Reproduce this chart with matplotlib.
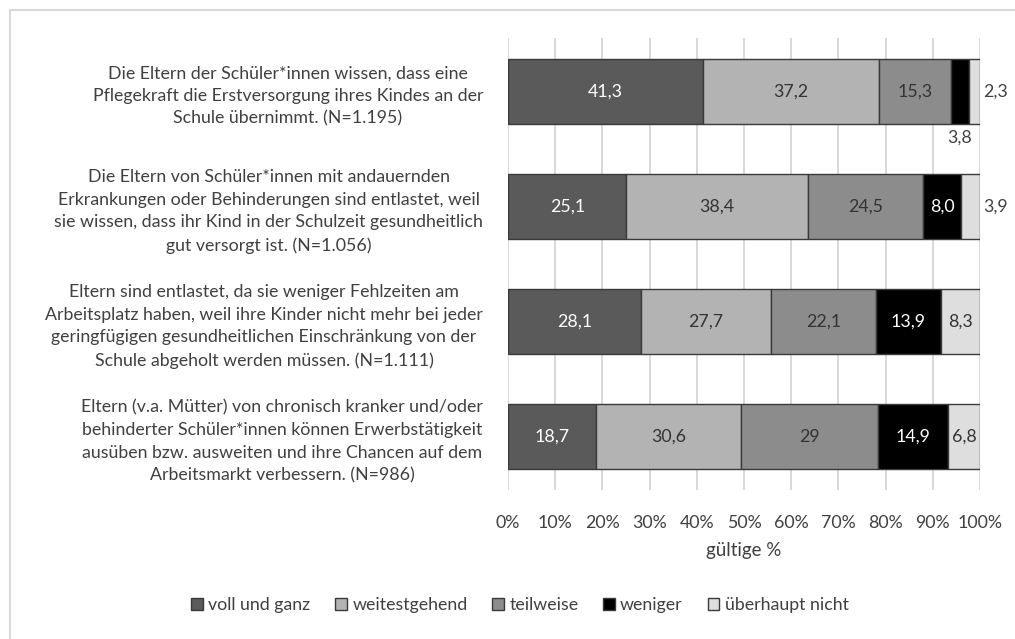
import matplotlib
matplotlib.use("Agg")
import matplotlib.pyplot as plt
from matplotlib.lines import Line2D

plt.rcParams['font.family'] = ['Lato', 'DejaVu Sans']

# Statements (top to bottom)
statements = [
    "Die Eltern der Schüler*innen wissen, dass eine\nPflegekraft die Erstversorgung ihres Kindes an der\nSchule übernimmt. (N=1.195)",
    "Die Eltern von Schüler*innen mit andauernden\nErkrankungen oder Behinderungen sind entlastet, weil\nsie wissen, dass ihr Kind in der Schulzeit gesundheitlich\ngut versorgt ist. (N=1.056)",
    "Eltern sind entlastet, da sie weniger Fehlzeiten am\nArbeitsplatz haben, weil ihre Kinder nicht mehr bei jeder\ngeringfügigen gesundheitlichen Einschränkung von der\nSchule abgeholt werden müssen. (N=1.111)",
    "Eltern (v.a. Mütter) von chronisch kranker und/oder\nbehinderter Schüler*innen können Erwerbstätigkeit\nausüben bzw. ausweiten und ihre Chancen auf dem\nArbeitsmarkt verbessern. (N=986)",
]

# Response categories and their shares (valid %), as printed
categories = ["voll und ganz", "weitestgehend", "teilweise", "weniger", "überhaupt nicht"]
voll_und_ganz = ["41,3", "25,1", "28,1", "18,7"]
weitestgehend = ["37,2", "38,4", "27,7", "30,6"]
teilweise = ["15,3", "24,5", "22,1", "29"]
weniger = ["3,8", "8,0", "13,9", "14,9"]
ueberhaupt_nicht = ["2,3", "3,9", "8,3", "6,8"]

x_ticks = [0, 10, 20, 30, 40, 50, 60, 70, 80, 90, 100]
x_tick_labels = [f"{t}%" for t in x_ticks]
x_title = "gültige %"

series = [voll_und_ganz, weitestgehend, teilweise, weniger, ueberhaupt_nicht]
colors = ["#5a5a5a", "#b3b3b3", "#8c8c8c", "#000000", "#dedede"]
text_colors = ["white", "#333333", "#333333", "white", "#333333"]
edge = "#3a3a3a"
label_dark = "#404040"
fs = 12.8


def to_num(s):
    return float(s.replace(",", "."))


fig = plt.figure(figsize=(10.15, 6.39), dpi=100)
ax = fig.add_axes([0.5005, 0.2332, 0.4650, 0.7073])

# light frame around the chart area
fig.add_artist(Line2D([10 / 1015, 10 / 1015], [0, 1 - 10 / 639], color="#d9d9d9", lw=1.5))
fig.add_artist(Line2D([10 / 1015, 1], [1 - 10 / 639, 1 - 10 / 639], color="#d9d9d9", lw=1.5))

ypos = list(range(len(statements)))
bar_h = 0.56
lefts = [0.0] * len(statements)
for k, (vals, col, tcol) in enumerate(zip(series, colors, text_colors)):
    nums = [to_num(v) for v in vals]
    ax.barh(ypos, nums, left=lefts, height=bar_h, color=col, edgecolor=edge,
            linewidth=1.0, label=categories[k], zorder=3)
    for i, (n, s) in enumerate(zip(nums, vals)):
        cx = lefts[i] + n / 2
        if n >= 5:
            ax.text(cx, ypos[i], s, ha="center", va="center", color=tcol,
                    fontsize=fs, zorder=4)
        elif k == 3:
            # small segment: label below the bar
            ax.text(cx, ypos[i] + bar_h / 2 + 0.05, s, ha="center", va="top",
                    color=label_dark, fontsize=fs)
        else:
            # small segment at the end: label to the right of the bar
            ax.text(100.6, ypos[i], s, ha="left", va="center",
                    color=label_dark, fontsize=fs, clip_on=False)
    lefts = [l + n for l, n in zip(lefts, nums)]

ax.set_xlim(0, 100)
ax.set_ylim(3.465, -0.465)
ax.set_xticks(x_ticks)
ax.set_xticklabels(x_tick_labels, fontsize=fs, color=label_dark)
ax.set_yticks(ypos)
ax.set_yticklabels(statements, fontsize=fs, color=label_dark, linespacing=1.5)
for lab in ax.get_yticklabels():
    lab.set_multialignment("center")
ax.tick_params(axis="x", length=0, pad=18)
ax.tick_params(axis="y", length=0, pad=18)
ax.set_xlabel(x_title, fontsize=13.5, color=label_dark, labelpad=8)

ax.grid(axis="x", color="#d6d6d6", linewidth=1.3, zorder=0)
ax.set_axisbelow(True)
for sp in ax.spines.values():
    sp.set_visible(False)

handles, labels = ax.get_legend_handles_labels()
leg = fig.legend(handles, labels, loc="center", bbox_to_anchor=(520 / 1015, 1 - 605 / 639),
                 ncol=5, frameon=False, fontsize=fs, handlelength=0.65, handleheight=0.7,
                 handletextpad=0.3, columnspacing=1.4, labelcolor=label_dark)

fig.savefig("out.png", dpi=100, facecolor="white")
